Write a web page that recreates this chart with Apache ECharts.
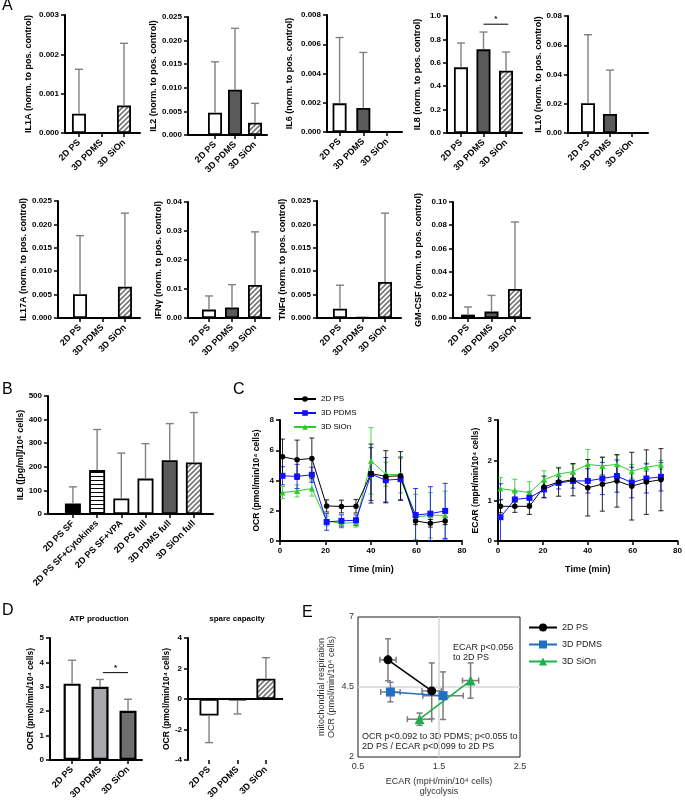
<!DOCTYPE html>
<html><head><meta charset="utf-8">
<script src="https://cdn.jsdelivr.net/npm/echarts@6/dist/echarts.min.js"></script>
<style>html,body{margin:0;padding:0;background:#fff}#c{width:685px;height:802px}</style>
</head><body><div id="c"></div>
<script>
// ---------------- DATA ----------------
const groups = ['2D PS', '3D PDMS', '3D SiOn'];
const il1aMean = [0.00049, 0, 0.0007];
const il1aSD   = [0.00113, 0, 0.00158];
const il2Mean  = [0.0047, 0.0096, 0.0026];
const il2SD    = [0.0108, 0.0130, 0.0041];
const il6Mean  = [0.00196, 0.00164, 0];
const il6SD    = [0.0045, 0.0038, 0];
const il8Mean  = [0.561, 0.715, 0.533];
const il8SD    = [0.208, 0.148, 0.159];
const il8Sig   = [1.0, 2.1, 0.93];
const il10Mean = [0.0203, 0.013, 0];
const il10SD   = [0.0469, 0.030, 0];
const il17aMean = [0.0051, 0, 0.0067];
const il17aSD   = [0.0125, 0, 0.0157];
const ifngMean = [0.0029, 0.0036, 0.0114];
const ifngSD   = [0.0047, 0.0079, 0.0183];
const tnfaMean = [0.0020, 0.0002, 0.0077];
const tnfaSD   = [0.0050, 0, 0.0147];
const gmcsfMean = [0.0029, 0.0055, 0.0250];
const gmcsfSD   = [0.0066, 0.0140, 0.0578];

const bGroups = ['2D PS SF', '2D PS SF+Cytokines', '2D PS SF+VPA', '2D PS full', '3D PDMS full', '3D SiOn full'];
const bMean = [45, 186, 66, 150, 228, 218];
const bSD   = [70, 172, 192, 148, 155, 212];

const timeMin = [1.1, 7.5, 14.0, 20.5, 27.0, 33.4, 40.0, 46.5, 53.0, 59.6, 66.1, 72.6];
const ocrPS     = [5.57, 5.37, 5.46, 2.32, 2.28, 2.30, 4.46, 4.27, 4.31, 1.33, 1.17, 1.33];
const ocrPSsd   = [1.17, 1.30, 1.35, 0.40, 0.42, 0.45, 1.95, 1.70, 1.60, 0.25, 0.25, 0.25];
const ocrPDMS   = [4.31, 4.27, 4.38, 1.26, 1.33, 1.37, 4.42, 4.02, 4.09, 1.72, 1.81, 1.99];
const ocrPDMSsd = [0.60, 0.80, 0.50, 0.55, 0.40, 0.35, 1.75, 1.50, 1.40, 1.75, 1.78, 1.82];
const ocrSiOn   = [3.20, 3.31, 3.47, 1.33, 1.17, 1.22, 5.30, 4.42, 4.38, 1.59, 1.70, 1.70];
const ocrSiOnsd = [0.40, 0.40, 0.50, 0.33, 0.30, 0.30, 2.20, 0.80, 1.20, 1.50, 1.50, 1.60];
const ecarPS     = [0.86, 0.86, 0.86, 1.34, 1.46, 1.52, 1.32, 1.41, 1.49, 1.36, 1.46, 1.52];
const ecarPSsd   = [0.16, 0.15, 0.20, 0.27, 0.35, 0.40, 0.70, 0.67, 0.65, 0.84, 0.80, 0.77];
const ecarPDMS   = [0.59, 1.03, 1.07, 1.28, 1.44, 1.49, 1.49, 1.55, 1.61, 1.45, 1.55, 1.59];
const ecarPDMSsd = [0.83, 0.20, 0.15, 0.20, 0.15, 0.18, 0.30, 0.40, 0.40, 0.38, 0.36, 0.35];
const ecarSiOn   = [1.30, 1.25, 1.20, 1.52, 1.66, 1.72, 1.90, 1.86, 1.90, 1.73, 1.83, 1.89];
const ecarSiOnsd = [0.27, 0.28, 0.27, 0.22, 0.17, 0.18, 0.37, 0.21, 0.23, 0.17, 0.10, 0.11];

const atpMean = [3.13, 3.00, 2.02];
const atpSD   = [0.96, 0.30, 0.47];
const atpSig  = [1.1, 2.0, 3.58];
const spareMean = [-1.09, -0.09, 1.33];
const spareSD   = [1.77, 0.89, 1.38];

const eEcarPS = [0.87, 1.41],   eOcrPS = [5.47, 4.36],   eEcarPSsd = [0.10, 0.12],   eOcrPSsd = [0.75, 1.00];
const eEcarPDMS = [0.90, 1.55], eOcrPDMS = [4.32, 4.19], eEcarPDMSsd = [0.12, 0.25], eOcrPDMSsd = [0.35, 0.85];
const eEcarSiOn = [1.26, 1.89], eOcrSiOn = [3.35, 4.73], eEcarSiOnsd = [0.15, 0.10], eOcrSiOnsd = [0.22, 0.63];

// ---------------- STYLE HELPERS ----------------
const FONT = '"Liberation Sans", Arial, sans-serif';
function hatchCanvas() {
  const s = 5, c = document.createElement('canvas'); c.width = s; c.height = s;
  const g = c.getContext('2d'); g.fillStyle = '#fff'; g.fillRect(0, 0, s, s);
  g.strokeStyle = '#777'; g.lineWidth = 1.6; g.beginPath();
  g.moveTo(-1, s + 1); g.lineTo(s + 1, -1);
  g.moveTo(-1, 1); g.lineTo(1, -1);
  g.moveTo(s - 1, s + 1); g.lineTo(s + 1, s - 1);
  g.stroke(); return c;
}
function hlineCanvas() {
  const c = document.createElement('canvas'); c.width = 4; c.height = 4;
  const g = c.getContext('2d'); g.fillStyle = '#fff'; g.fillRect(0, 0, 4, 4);
  g.fillStyle = '#000'; g.fillRect(0, 0, 4, 1); return c;
}
const HATCH = { image: hatchCanvas(), repeat: 'repeat' };
const HLINE = { image: hlineCanvas(), repeat: 'repeat' };
const WHITE = '#ffffff', DARK = '#5a5a5a';
const AXL = { color: '#000', width: 2 };
const TCK = { color: '#000', width: 1.5 };
function bold(sz, extra) { return Object.assign({ fontSize: sz, fontWeight: 'bold', color: '#000', fontFamily: FONT }, extra || {}); }

const grids = [], xAxis = [], yAxis = [], series = [];

function barErr(color) {
  return function (params, api) {
    const x = api.value(0), m = api.value(1), s = api.value(2);
    if (!s) return null;
    const dir = m < 0 ? -1 : 1;
    const p0 = api.coord([x, m]), p1 = api.coord([x, m + dir * s]);
    const w = 4, st = { stroke: color, lineWidth: 1.4 };
    return { type: 'group', children: [
      { type: 'line', shape: { x1: p0[0], y1: p0[1], x2: p1[0], y2: p1[1] }, style: st },
      { type: 'line', shape: { x1: p1[0] - w, y1: p1[1], x2: p1[0] + w, y2: p1[1] }, style: st }
    ] };
  };
}
function sigItem(params, api) {
  const a = api.coord([api.value(0), api.value(2)]), b = api.coord([api.value(1), api.value(2)]);
  return { type: 'group', children: [
    { type: 'line', shape: { x1: a[0], y1: a[1], x2: b[0], y2: b[1] }, style: { stroke: '#000', lineWidth: 1 } },
    { type: 'text', style: { text: '*', x: (a[0] + b[0]) / 2, y: a[1] - 1, align: 'center', verticalAlign: 'bottom', font: 'bold 8px ' + FONT, fill: '#000' } }
  ] };
}

function barPanel(p) {
  const i = grids.length;
  grids.push({ left: p.box[0], top: p.box[1], width: p.box[2], height: p.box[3] });
  const idx = p.cats.map((_, k) => k);
  xAxis.push({
    gridIndex: i, type: 'value', min: p.xr[0], max: p.xr[1],
    axisLine: { show: !p.zeroLine, onZero: !p.zeroLine, lineStyle: AXL },
    axisTick: { show: true, customValues: idx, length: 4, lineStyle: TCK },
    axisLabel: { customValues: idx, formatter: v => p.cats[Math.round(v)], rotate: 45, margin: 8, ...bold(9) },
    splitLine: { show: false }
  });
  yAxis.push({
    gridIndex: i, type: 'value', min: p.min || 0, max: p.max, interval: p.interval,
    axisLine: { show: true, onZero: false, lineStyle: AXL },
    axisTick: { show: true, length: 4, lineStyle: TCK },
    axisLabel: { formatter: v => (Math.abs(v) < 1e-12 ? 0 : v).toFixed(p.dec), margin: 6, ...bold(8) },
    splitLine: { show: false },
    name: p.yname, nameLocation: 'middle', nameGap: p.nameGap, nameTextStyle: bold(p.nsz || 9)
  });
  const bar = {
    type: 'bar', xAxisIndex: i, yAxisIndex: i, barWidth: p.bw || 14, silent: true,
    data: p.mean.map((m, k) => ({ value: [k, m], itemStyle: { color: p.fills[k], borderColor: '#000', borderWidth: p.bwid || 1.8 } }))
  };
  if (p.zeroLine) bar.markLine = { silent: true, symbol: ['none', 'none'], label: { show: false }, lineStyle: { color: '#000', width: 2, type: 'solid' }, data: [{ yAxis: 0 }] };
  series.push(bar);
  series.push({ type: 'custom', name: 'err' + i, xAxisIndex: i, yAxisIndex: i, silent: true, renderItem: barErr('#808080'), data: p.mean.map((m, k) => [k, m, p.sd[k]]), z: 3 });
  if (p.sig) series.push({ type: 'custom', name: 'sig' + i, xAxisIndex: i, yAxisIndex: i, silent: true, renderItem: sigItem, data: [p.sig], z: 4 });
}

const fillsA = [WHITE, DARK, HATCH];
const yl = s => s + ' (norm. to pos. control)';
barPanel({ cats: groups, mean: il1aMean, sd: il1aSD, max: 0.003, interval: 0.001, dec: 3, box: [65, 15, 75, 118], xr: [-0.62, 2.71], fills: fillsA, yname: yl('IL1A'), nameGap: 32 });
barPanel({ cats: groups, mean: il2Mean, sd: il2SD, max: 0.025, interval: 0.005, dec: 3, box: [188, 17, 79, 118], xr: [-1.35, 2.6], fills: fillsA, yname: yl('IL2'), nameGap: 26 });
barPanel({ cats: groups, mean: il6Mean, sd: il6SD, max: 0.008, interval: 0.002, dec: 3, box: [327, 15, 75, 117], xr: [-0.53, 2.63], fills: fillsA, yname: yl('IL6'), nameGap: 33 });
barPanel({ cats: groups, mean: il8Mean, sd: il8SD, max: 1.0, interval: 0.2, dec: 1, box: [447, 16, 75, 117], xr: [-0.62, 2.71], fills: fillsA, yname: yl('IL8'), nameGap: 25, sig: il8Sig });
barPanel({ cats: groups, mean: il10Mean, sd: il10SD, max: 0.08, interval: 0.02, dec: 2, box: [568, 16, 80, 117], xr: [-0.91, 2.73], fills: fillsA, yname: yl('IL10'), nameGap: 24 });
barPanel({ cats: groups, mean: il17aMean, sd: il17aSD, max: 0.025, interval: 0.005, dec: 3, box: [58, 201, 82, 117], xr: [-0.98, 2.67], fills: fillsA, yname: yl('IL17A'), nameGap: 28 });
barPanel({ cats: groups, mean: ifngMean, sd: ifngSD, max: 0.04, interval: 0.01, dec: 2, box: [188, 202, 82, 116], xr: [-0.91, 2.65], fills: fillsA, yname: yl('IFNγ'), nameGap: 20 });
barPanel({ cats: groups, mean: tnfaMean, sd: tnfaSD, max: 0.025, interval: 0.005, dec: 3, box: [317, 201, 84, 117], xr: [-1.02, 2.71], fills: fillsA, yname: yl('TNFα'), nameGap: 28 });
barPanel({ cats: groups, mean: gmcsfMean, sd: gmcsfSD, max: 0.10, interval: 0.02, dec: 2, box: [453, 202, 77, 116], xr: [-0.64, 2.64], fills: fillsA, yname: yl('GM-CSF'), nameGap: 30 });

// B
barPanel({ cats: bGroups, mean: bMean, sd: bSD, max: 500, interval: 100, dec: 0, box: [48, 396, 165, 118], xr: [-1.03, 5.79], fills: ['#000000', HLINE, WHITE, WHITE, DARK, HATCH], yname: 'IL8 ([pg/ml]/10⁶ cells)', nameGap: 20, bw: 16 });

// D
barPanel({ cats: groups, mean: atpMean, sd: atpSD, max: 5, interval: 1, dec: 0, box: [50, 638, 92, 122], xr: [-0.79, 2.5], fills: [WHITE, '#a7a7ad', '#6e6e6e'], yname: 'OCR (pmol/min/10⁴ cells)', nameGap: 13, nsz: 8.5, bw: 17, bwid: 2.2, sig: atpSig });
barPanel({ cats: groups, mean: spareMean, sd: spareSD, min: -4, max: 4, interval: 2, dec: 0, box: [188, 638, 95, 122], xr: [-0.74, 2.6], fills: [WHITE, DARK, HATCH], yname: 'OCR (pmol/min/10⁴ cells)', nameGap: 16, nsz: 8.5, bw: 19, zeroLine: true });

// C
const cColors = ['#000000', '#1010ff', '#2ecc2e'];
const cSymbols = ['circle', 'rect', 'triangle'];
function err2(color) {
  return function (params, api) {
    const x = api.value(0), m = api.value(1), s = api.value(2);
    const lo = Math.max(m - s, 0), clipped = m - s < 0;
    const a = api.coord([x, lo]), b = api.coord([x, m + s]);
    const w = 2.5, st = { stroke: color, lineWidth: 1, opacity: 0.85 };
    const ch = [
      { type: 'line', shape: { x1: a[0], y1: a[1], x2: b[0], y2: b[1] }, style: st },
      { type: 'line', shape: { x1: b[0] - w, y1: b[1], x2: b[0] + w, y2: b[1] }, style: st }
    ];
    if (!clipped) ch.push({ type: 'line', shape: { x1: a[0] - w, y1: a[1], x2: a[0] + w, y2: a[1] }, style: st });
    return { type: 'group', children: ch };
  };
}
function cPanel(box, ymax, yint, yname, gap, vals, sds) {
  const i = grids.length;
  grids.push({ left: box[0], top: box[1], width: box[2], height: box[3] });
  xAxis.push({ gridIndex: i, type: 'value', min: 0, max: 80, interval: 20,
    axisLine: { show: true, onZero: false, lineStyle: AXL }, axisTick: { show: true, length: 4, lineStyle: TCK },
    axisLabel: { margin: 6, ...bold(8) }, splitLine: { show: false },
    name: 'Time (min)', nameLocation: 'middle', nameGap: 24, nameTextStyle: bold(9) });
  yAxis.push({ gridIndex: i, type: 'value', min: 0, max: ymax, interval: yint,
    axisLine: { show: true, onZero: false, lineStyle: AXL }, axisTick: { show: true, length: 4, lineStyle: TCK },
    axisLabel: { margin: 6, ...bold(8) }, splitLine: { show: false },
    name: yname, nameLocation: 'middle', nameGap: gap, nameTextStyle: bold(8.5) });
  for (let g = 2; g >= 0; g--) {
    series.push({ type: 'custom', name: 'cerr' + i + g, xAxisIndex: i, yAxisIndex: i, silent: true, renderItem: err2(cColors[g]), data: timeMin.map((t, k) => [t, vals[g][k], sds[g][k]]), z: 2 });
  }
  for (let g = 2; g >= 0; g--) {
    series.push({ type: 'line', name: groups[g], xAxisIndex: i, yAxisIndex: i, silent: true,
      data: timeMin.map((t, k) => [t, vals[g][k]]), symbol: cSymbols[g], symbolSize: g === 0 ? 5.5 : 6,
      itemStyle: { color: cColors[g] }, lineStyle: { color: cColors[g], width: 1 }, z: 3 });
  }
}
cPanel([280, 420, 182, 121], 8, 2, 'OCR (pmol/min/10⁴ cells)', 19, [ocrPS, ocrPDMS, ocrSiOn], [ocrPSsd, ocrPDMSsd, ocrSiOnsd]);
cPanel([498, 420, 182, 121], 3, 1, 'ECAR (mpH/min/10⁴ cells)', 18, [ecarPS, ecarPDMS, ecarSiOn], [ecarPSsd, ecarPDMSsd, ecarSiOnsd]);

// E
const eColors = ['#000000', '#1f6fc4', '#1fae4b'];
const eNames = ['E·2D PS', 'E·3D PDMS', 'E·3D SiOn'];
const eX = [eEcarPS, eEcarPDMS, eEcarSiOn], eY = [eOcrPS, eOcrPDMS, eOcrSiOn];
const eXs = [eEcarPSsd, eEcarPDMSsd, eEcarSiOnsd], eYs = [eOcrPSsd, eOcrPDMSsd, eOcrSiOnsd];
(function () {
  const i = grids.length;
  grids.push({ left: 358, top: 617, width: 162, height: 140, show: true, borderColor: '#1a1a1a', borderWidth: 1 });
  const t = { fontSize: 9, color: '#333', fontFamily: FONT };
  xAxis.push({ gridIndex: i, type: 'value', min: 0.5, max: 2.5, axisLine: { show: false }, axisTick: { show: false },
    axisLabel: { customValues: [0.5, 1.5, 2.5], margin: 5, ...t }, splitLine: { show: false },
    name: 'ECAR (mpH/min/10⁴ cells)\nglycolysis', nameLocation: 'middle', nameGap: 20, nameTextStyle: { ...t, lineHeight: 10 } });
  yAxis.push({ gridIndex: i, type: 'value', min: 2, max: 7, axisLine: { show: false }, axisTick: { show: false },
    axisLabel: { customValues: [2, 4.5, 7], margin: 4, ...t }, splitLine: { show: false },
    name: 'mitochondrial respiration\nOCR (pmol/min/10⁴ cells)', nameLocation: 'middle', nameGap: 21, nameTextStyle: { ...t, lineHeight: 10 } });
  function eErr(params, api) {
    const x = api.value(0), y = api.value(1), xs = api.value(2), ys = api.value(3);
    const l = api.coord([x - xs, y]), r = api.coord([x + xs, y]), b = api.coord([x, y - ys]), tp = api.coord([x, y + ys]);
    const w = 3, st = { stroke: '#7d7d7d', lineWidth: 1.5 };
    return { type: 'group', children: [
      { type: 'line', shape: { x1: l[0], y1: l[1], x2: r[0], y2: r[1] }, style: st },
      { type: 'line', shape: { x1: l[0], y1: l[1] - w, x2: l[0], y2: l[1] + w }, style: st },
      { type: 'line', shape: { x1: r[0], y1: r[1] - w, x2: r[0], y2: r[1] + w }, style: st },
      { type: 'line', shape: { x1: b[0], y1: b[1], x2: tp[0], y2: tp[1] }, style: st },
      { type: 'line', shape: { x1: b[0] - w, y1: b[1], x2: b[0] + w, y2: b[1] }, style: st },
      { type: 'line', shape: { x1: tp[0] - w, y1: tp[1], x2: tp[0] + w, y2: tp[1] }, style: st }
    ] };
  }
  series.push({ type: 'line', name: 'egrid', xAxisIndex: i, yAxisIndex: i, data: [], silent: true,
    markLine: { silent: true, z: 1, symbol: ['none', 'none'], label: { show: false }, lineStyle: { color: '#d6d6d6', width: 1.5, type: 'solid' }, data: [{ xAxis: 1.5 }, { yAxis: 4.5 }] } });
  for (let g = 0; g < 3; g++) {
    series.push({ type: 'custom', name: 'eerr' + g, xAxisIndex: i, yAxisIndex: i, silent: true, renderItem: eErr, z: 2,
      data: eX[g].map((x, k) => [x, eY[g][k], eXs[g][k], eYs[g][k]]) });
  }
  const sym = ['circle', 'rect', 'triangle'], sz = [9, 9, 10];
  for (let g = 0; g < 3; g++) {
    series.push({ type: 'line', name: eNames[g], xAxisIndex: i, yAxisIndex: i, silent: true, z: 3,
      data: eX[g].map((x, k) => [x, eY[g][k]]), symbol: sym[g], symbolSize: sz[g],
      itemStyle: { color: eColors[g] }, lineStyle: { color: eColors[g], width: 1.6 } });
  }
})();

const gtxt = (x, y, text, font, align, fill) => ({ type: 'text', x, y, silent: true,
  style: { text, font, fill: fill || '#000', textAlign: align || 'left', textVerticalAlign: 'top', lineHeight: 10 } });

const option = {
  animation: false,
  textStyle: { fontFamily: FONT },
  grid: grids, xAxis, yAxis, series,
  legend: [
    { left: 293, top: 394, padding: 0, orient: 'vertical', itemWidth: 22, itemHeight: 7, itemGap: 4, selectedMode: false,
      data: ['2D PS', '3D PDMS', '3D SiOn'], textStyle: { fontSize: 8, color: '#000', fontFamily: FONT, lineHeight: 10 } },
    { left: 528, top: 623, padding: 0, orient: 'vertical', itemWidth: 28, itemHeight: 10, itemGap: 8, selectedMode: false,
      data: eNames, formatter: n => n.replace('E·', ''), textStyle: { fontSize: 9, color: '#222', fontFamily: FONT } }
  ],
  graphic: [
    gtxt(2, 1, 'A', '16px ' + FONT), gtxt(2, 385, 'B', '16px ' + FONT), gtxt(233, 385, 'C', '16px ' + FONT),
    gtxt(2, 606, 'D', '16px ' + FONT), gtxt(302, 608, 'E', '16px ' + FONT),
    gtxt(99, 614, 'ATP production', 'bold 8px ' + FONT, 'center'),
    gtxt(237, 614, 'spare capacity', 'bold 8px ' + FONT, 'center'),
    gtxt(453, 643, 'ECAR p<0.056\nto 2D PS', '9px ' + FONT, 'left', '#222'),
    gtxt(362, 732, 'OCR p<0.092 to 3D PDMS; p<0.055 to\n2D PS / ECAR p<0.099 to 2D PS', '9px ' + FONT, 'left', '#222')
  ]
};
const chart = echarts.init(document.getElementById('c'), null, { renderer: 'canvas' });
chart.setOption(option);
</script></body></html>
